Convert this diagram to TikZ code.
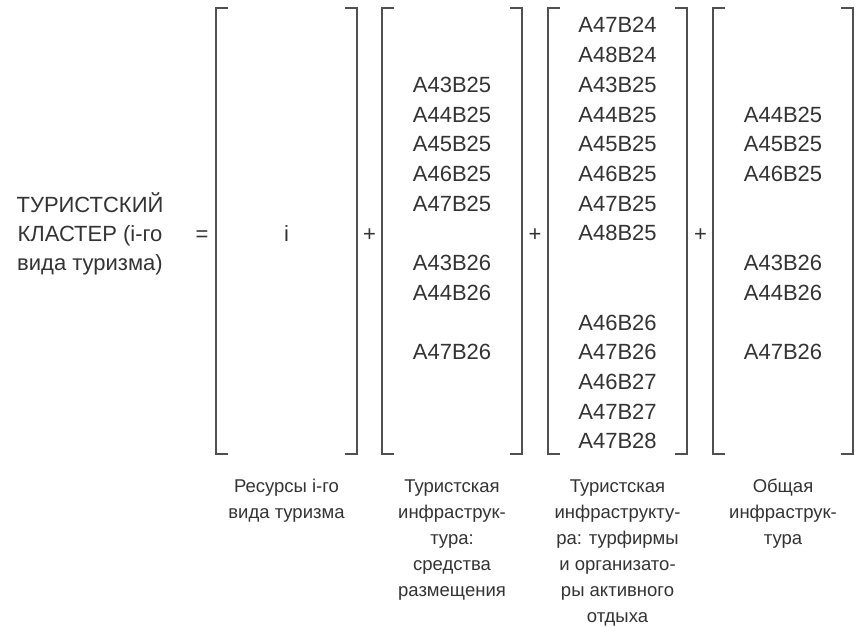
\documentclass[tikz,border=0pt]{standalone}
\usepackage{fontspec}
\setmainfont{Liberation Sans}
\definecolor{inkc}{HTML}{333333}
\definecolor{linec}{HTML}{505050}
\begin{document}
\begin{tikzpicture}[x=1pt,y=-1pt,
  item/.style={font=\fontsize{22}{26}\selectfont, text=inkc, inner sep=0pt, anchor=base},
  lbl/.style={font=\fontsize{18.5}{26}\selectfont, text=inkc, inner sep=0pt, align=center, anchor=base},
  area/.style={minimum width=#1, minimum height=446pt, inner sep=0pt, outer sep=0pt},
  brk/.style={draw=linec, line width=1.8pt}
]
\useasboundingbox (0,0) rectangle (858,628);
% bracket areas
\node[area=141pt] (b1) at (286.5,231) {};
\node[area=140pt] (b2) at (452,231) {};
\node[area=139pt] (b3) at (617.5,231) {};
\node[area=140pt] (b4) at (783,231) {};
\foreach \b in {b1,b2,b3,b4}{
  \draw[brk] ([xshift=12pt]\b.north west) -- (\b.north west) -- (\b.south west) -- ([xshift=12pt]\b.south west);
  \draw[brk] ([xshift=-12pt]\b.north east) -- (\b.north east) -- (\b.south east) -- ([xshift=-12pt]\b.south east);
}
% left text
\node[item] (t1) at (90,212) {ТУРИСТСКИЙ};
\node[item] (t2) at (90,241) {КЛАСТЕР (i-го};
\node[item] (t3) at (90,270) {вида туризма)};
% operators
\node[item] (eq) at (202,241) {=};
\node[item] (p1) at (369.5,241) {+};
\node[item] (p2) at (535,241) {+};
\node[item] (p3) at (700.5,241) {+};
% box 1
\node[item] (r1) at (286.5,241) {i};
% box 2
\foreach \r/\t in {2/A43B25,3/A44B25,4/A45B25,5/A46B25,6/A47B25,8/A43B26,9/A44B26,11/A47B26}
  \node[item] (s2r\r) at (452,{33+29.7*\r}) {\t};
% box 3
\foreach \r/\t in {0/A47B24,1/A48B24,2/A43B25,3/A44B25,4/A45B25,5/A46B25,6/A47B25,7/A48B25,10/A46B26,11/A47B26,12/A46B27,13/A47B27,14/A47B28}
  \node[item] (s3r\r) at (617.5,{33+29.7*\r}) {\t};
% box 4
\foreach \r/\t in {3/A44B25,4/A45B25,5/A46B25,8/A43B26,9/A44B26,11/A47B26}
  \node[item] (s4r\r) at (783,{33+29.7*\r}) {\t};
% captions (base anchor = baseline of last line; first baseline at 492)
\node[lbl] (c1) at (286.5,518) {Ресурсы i-го\\вида туризма};
\node[lbl] (c2) at (452,596) {Туристская\\инфраструк-\\тура:\\средства\\размещения};
\node[lbl] (c3) at (617.5,622) {Туристская\\инфраструкту-\\ра: турфирмы\\и организато-\\ры активного\\отдыха};
\node[lbl] (c4) at (783,544) {Общая\\инфраструк-\\тура};
\end{tikzpicture}
\end{document}
